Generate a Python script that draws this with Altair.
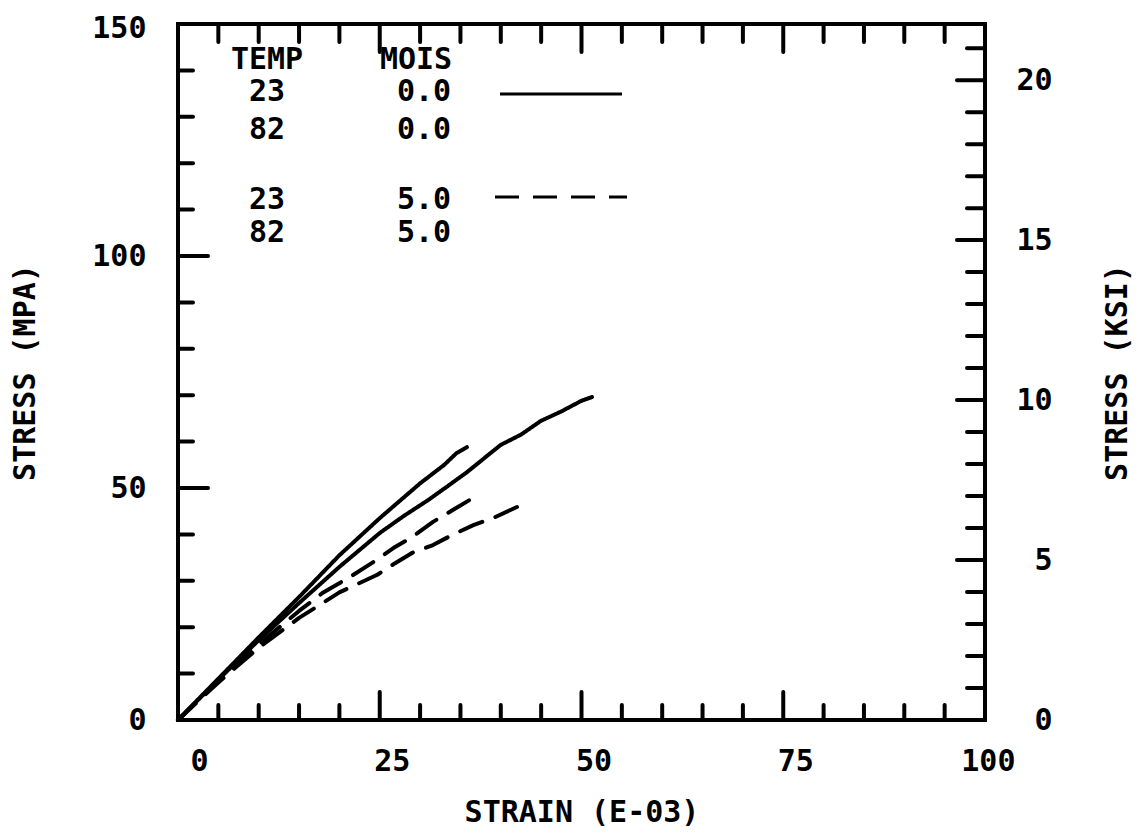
import altair as alt
import pandas as pd

# ---------------- data ----------------
s1_strain = [0, 5, 10, 15, 20, 25, 30, 33, 34.5, 35.8]
s1_stress = [0, 8.9, 17.8, 26.5, 35.5, 43.5, 51, 55, 57.5, 58.8]

s2_strain = [0, 5, 10, 15, 20, 25, 28, 31, 33.5, 35.8, 38, 40, 42.5, 45, 47.5, 50, 51.3]
s2_stress = [0, 8.7, 17.2, 25.2, 33, 40.3, 44, 47.4, 50.5, 53.4, 56.5, 59.3, 61.5, 64.5, 66.5, 68.8, 69.6]

d1_strain = [0, 5, 10, 15, 18, 21.3, 24, 26.9, 29, 31.6, 34.1, 36.8]
d1_stress = [0, 8.4, 16.3, 23.5, 27.5, 30.8, 33.8, 37.3, 39.4, 42.7, 45.3, 48.1]

d2_strain = [0, 5, 10, 15, 20, 24.7, 26.9, 29, 31.6, 34, 36.6, 39, 42]
d2_stress = [0, 8.1, 15.6, 22, 27.5, 31.3, 33.8, 36, 37.7, 39.9, 42, 43.5, 45.9]

series_temp = ["23", "82", "23", "82"]
series_mois = ["0.0", "0.0", "5.0", "5.0"]

x_labels = [0, 25, 50, 75, 100]
x_minor_ticks = [5, 10, 15, 20, 30, 35, 40, 45, 55, 60, 65, 70, 80, 85, 90, 95]
x_major_ticks = [25, 50, 75]
y_labels = [0, 50, 100, 150]
y_minor_ticks = [10, 20, 30, 40, 60, 70, 80, 90, 110, 120, 130, 140]
y_major_ticks = [50, 100]
ksi_labels = [0, 5, 10, 15, 20]
ksi_minor_ticks = [1, 2, 3, 4, 6, 7, 8, 9, 11, 12, 13, 14, 16, 17, 18, 19, 21]
ksi_major_ticks = [5, 10, 15, 20]
MPA_PER_KSI = 6.89476

# ---------------- layout / style ----------------
W, H = 807, 696
FONT = "DejaVu Sans Mono"
FS = 30
LW = 4

rows = []
for name, xs, ys, mois in [("s1", s1_strain, s1_stress, "0.0"),
                           ("s2", s2_strain, s2_stress, "0.0"),
                           ("d1", d1_strain, d1_stress, "5.0"),
                           ("d2", d2_strain, d2_stress, "5.0")]:
    for i, (a, b) in enumerate(zip(xs, ys)):
        rows.append({"series": name, "strain": a, "stress": b, "mois": mois, "idx": i})
df = pd.DataFrame(rows)

x_scale = alt.Scale(domain=[0, 100], nice=False, zero=False)
y_scale = alt.Scale(domain=[0, 150], nice=False)
ksi_scale = alt.Scale(domain=[0, 150 / MPA_PER_KSI], nice=False)

common_axis = dict(ticks=False, domain=False, grid=False, labelFont=FONT,
                   labelFontSize=FS, labelFontWeight="bold", labelColor="black",
                   labelOverlap=False, labelBound=False, labelFlush=False,
                   titleFont=FONT, titleFontSize=FS, titleFontWeight="bold",
                   titleColor="black", format="d")

x_axis = alt.Axis(values=x_labels, labelAlign="right", labelOffset=30,
                  labelPadding=26, labelBaseline="top",
                  title="STRAIN (E-03)", titleX=W / 2, titleY=92,
                  titleAlign="center", titleBaseline="middle", **common_axis)
left_axis = alt.Axis(values=y_labels, labelAlign="right", labelPadding=32,
                     labelBaseline="middle",
                     labelOffset={"condition": {"test": "datum.value == 150", "value": 4},
                                  "value": 0},
                     title="STRESS (MPA)", titleAngle=270, titleX=-153, titleY=H / 2,
                     titleAlign="center", titleBaseline="middle", **common_axis)
right_axis = alt.Axis(orient="right", values=ksi_labels, labelAlign="right",
                      labelPadding=67, labelBaseline="middle",
                      title="STRESS (KSI)", titleAngle=270, titleX=132, titleY=H / 2,
                      titleAlign="center", titleBaseline="middle", **common_axis)

lines = alt.Chart(df).mark_line(color="black", strokeWidth=LW, strokeCap="round",
                                strokeJoin="round").encode(
    x=alt.X("strain:Q", scale=x_scale, axis=x_axis),
    y=alt.Y("stress:Q", scale=y_scale, axis=left_axis),
    detail="series:N",
    order="idx:Q",
    strokeDash=alt.StrokeDash("mois:N", scale=alt.Scale(domain=["0.0", "5.0"],
                                                         range=[[1, 0], [24, 14]]),
                              legend=None),
)

rule_style = dict(color="black", strokeWidth=LW, strokeCap="round")


def xticks(vals, y0, y1):
    return alt.Chart(pd.DataFrame({"strain": vals})).mark_rule(**rule_style).encode(
        x=alt.X("strain:Q", scale=x_scale, axis=x_axis), y=alt.value(y0), y2=alt.value(y1))


def yticks(vals, x0, x1):
    return alt.Chart(pd.DataFrame({"stress": vals})).mark_rule(**rule_style).encode(
        y=alt.Y("stress:Q", scale=y_scale, axis=left_axis), x=alt.value(x0), x2=alt.value(x1))


tick_layers = [
    xticks(x_minor_ticks, H, H - 15), xticks(x_major_ticks, H, H - 28),
    xticks(x_minor_ticks, 0, 18), xticks(x_major_ticks, 0, 28),
    yticks(y_minor_ticks, 0, 15), yticks(y_major_ticks, 0, 30),
]

# legend block
text_style = dict(font=FONT, fontSize=FS, fontWeight="bold", color="black",
                  align="center", baseline="middle")
legend_layers = [
    alt.Chart(pd.DataFrame({"t": ["TEMP"]})).mark_text(**text_style).encode(
        text="t:N", x=alt.value(89), y=alt.value(36)),
    alt.Chart(pd.DataFrame({"t": ["MOIS"]})).mark_text(**text_style).encode(
        text="t:N", x=alt.value(238), y=alt.value(36)),
]
row_y = [68, 106, 176, 209]
for t, m, ry in zip(series_temp, series_mois, row_y):
    legend_layers.append(alt.Chart(pd.DataFrame({"t": [t]})).mark_text(**text_style).encode(
        text="t:N", x=alt.value(89), y=alt.value(ry)))
    legend_layers.append(alt.Chart(pd.DataFrame({"t": [m]})).mark_text(**text_style).encode(
        text="t:N", x=alt.value(246), y=alt.value(ry)))
legend_layers.append(alt.Chart(pd.DataFrame({"m": ["0.0"]})).mark_rule(
    color="black", strokeWidth=3).encode(x=alt.value(322), x2=alt.value(444), y=alt.value(70)))
legend_layers.append(alt.Chart(pd.DataFrame({"m": ["5.0"]})).mark_rule(
    color="black", strokeWidth=3, strokeDash=[24, 14]).encode(
    x=alt.value(317), x2=alt.value(449), y=alt.value(173)))

layer_a = alt.layer(lines, *tick_layers, *legend_layers)

ksi_major = alt.Chart(pd.DataFrame({"ksi": ksi_major_ticks})).mark_rule(**rule_style).encode(
    y=alt.Y("ksi:Q", scale=ksi_scale, axis=right_axis), x=alt.value(W), x2=alt.value(W - 28))
ksi_minor = alt.Chart(pd.DataFrame({"ksi": ksi_minor_ticks})).mark_rule(**rule_style).encode(
    y=alt.Y("ksi:Q", scale=ksi_scale, axis=right_axis), x=alt.value(W), x2=alt.value(W - 18))
layer_b = alt.layer(ksi_major, ksi_minor)

chart = alt.layer(layer_a, layer_b).resolve_scale(y="independent").properties(
    width=W, height=H,
    autosize=alt.AutoSizeParams(type="none"),
    padding={"left": 170, "top": 16, "right": 152, "bottom": 109},
    background="white",
).configure_view(stroke="black", strokeWidth=LW)

chart.save("out.html", embed_options={"renderer": "svg", "actions": False})
